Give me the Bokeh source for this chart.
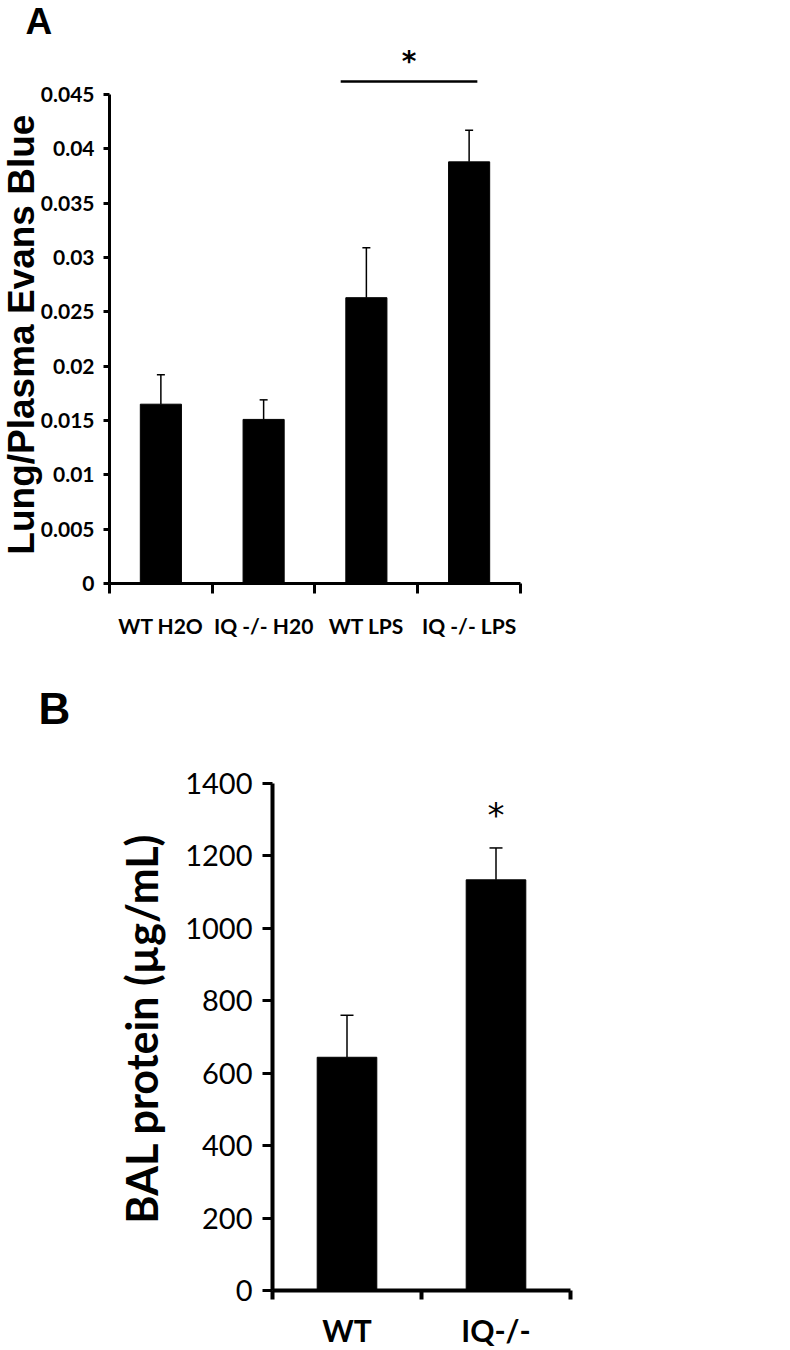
import numpy as np
from bokeh.plotting import figure
from bokeh.models import ColumnDataSource, FixedTicker, Range1d, Whisker, TeeHead
from bokeh.layouts import column
from bokeh.embed import file_html
from bokeh.resources import INLINE
from bokeh.core.properties import value

# ---------------- Panel A data ----------------
cats_a = ["WT H2O", "IQ -/- H20", "WT LPS", "IQ -/- LPS"]
mean_a = [0.0165, 0.0151, 0.0263, 0.0388]
sem_a = [0.0027, 0.0018, 0.0046, 0.0029]
yticks_a = [0, 0.005, 0.01, 0.015, 0.02, 0.025, 0.03, 0.035, 0.04, 0.045]
ylabels_a = ["0", "0.005", "0.01", "0.015", "0.02", "0.025", "0.03", "0.035", "0.04", "0.045"]
ytitle_a = "Lung/Plasma Evans Blue"
sig_pair_a = [2, 3]

# ---------------- Panel B data ----------------
cats_b = ["WT", "IQ-/-"]
mean_b = [644, 1134]
sem_b = [116, 88]
yticks_b = [0, 200, 400, 600, 800, 1000, 1200, 1400]
ylabels_b = ["0", "200", "400", "600", "800", "1000", "1200", "1400"]
ytitle_b = "BAL protein (µg/mL)"
sig_index_b = 1

FONT = "Lato"
STAR_FONT = "DejaVu Sans"
PANEL_FONT = "Liberation Sans"


def style_common(p):
    p.xgrid.visible = False
    p.ygrid.visible = False
    p.outline_line_color = None
    p.background_fill_color = "white"
    p.border_fill_color = "white"
    p.min_border = 0


# ================= Panel A =================
# the frame spans the whole figure; axes are pinned at x=0 / y=0
pa = figure(width=790, height=660,
            x_range=Range1d(-1.0608, 6.6277), y_range=Range1d(-0.007086, 0.053649),
            output_backend="svg", toolbar_location=None)
style_common(pa)

xa = np.arange(len(cats_a)) + 0.5
upper_a = [m + s for m, s in zip(mean_a, sem_a)]
src_a = ColumnDataSource(dict(x=xa, top=mean_a, upper=upper_a))
pa.vbar(x="x", top="top", bottom=0, width=0.4, source=src_a,
        fill_color="black", line_color="black", line_width=1)
pa.add_layout(Whisker(source=src_a, base="x", lower="top", upper="upper", dimension="height",
                      line_color="black", line_width=1.5,
                      upper_head=TeeHead(size=8, line_color="black", line_width=1.5),
                      lower_head=None))

# significance bracket
sig_y = max(upper_a) + 0.0045
x0 = xa[sig_pair_a[0]] - 0.25
x1 = xa[sig_pair_a[1]] + 0.08
pa.line(x=[x0, x1], y=[sig_y, sig_y], line_color="black", line_width=2.5)
pa.text(x=[(x0 + x1) / 2], y=[sig_y + 0.0018], text=["*"], text_align="center",
        text_baseline="middle", text_font=value(STAR_FONT), text_font_size="28px",
        text_font_style="bold", text_color="black")

xax = pa.xaxis[0]
xax.fixed_location = 0
xax.bounds = (0, len(cats_a))
xax.ticker = FixedTicker(ticks=list(xa), minor_ticks=list(range(len(cats_a) + 1)))
xax.major_label_overrides = {float(x): c for x, c in zip(xa, cats_a)}
xax.axis_line_width = 3
xax.major_tick_out = 0
xax.major_tick_in = 0
xax.minor_tick_out = 10
xax.minor_tick_in = 0
xax.minor_tick_line_width = 3
xax.major_label_standoff = 20
xax.major_label_text_font = FONT
xax.major_label_text_font_style = "bold"
xax.major_label_text_font_size = "21px"
xax.major_label_text_color = "black"

yax = pa.yaxis[0]
yax.fixed_location = 0
yax.ticker = FixedTicker(ticks=yticks_a, minor_ticks=[])
yax.bounds = (0, 0.045)
yax.major_label_overrides = dict(zip(yticks_a, ylabels_a))
yax.axis_line_width = 3
yax.major_tick_out = 6
yax.major_tick_in = 0
yax.major_tick_line_width = 3
yax.minor_tick_out = 0
yax.minor_tick_in = 0
yax.major_label_standoff = 9
yax.major_label_text_font = FONT
yax.major_label_text_font_style = "bold"
yax.major_label_text_font_size = "21px"
yax.major_label_text_color = "black"

# y-axis title (placed as text so that it stays inside the canvas)
pa.text(x=[-0.8516], y=[0.0229], text=[ytitle_a], angle=np.pi / 2, text_align="center",
        text_baseline="middle", text_font=value(PANEL_FONT), text_font_style="bold",
        text_font_size="37px", text_color="black")

# panel letter
pa.text(x=[-0.8175], y=[0.05172], text=["A"], text_align="left", text_baseline="middle",
        text_font=value(PANEL_FONT), text_font_style="bold", text_font_size="37px",
        text_color="black")

# ================= Panel B =================
pb = figure(width=790, height=690,
            x_range=Range1d(-1.8255, 3.4765), y_range=Range1d(-165.68, 1739.6),
            output_backend="svg", toolbar_location=None)
style_common(pb)

xb = np.arange(len(cats_b)) + 0.5
upper_b = [m + s for m, s in zip(mean_b, sem_b)]
src_b = ColumnDataSource(dict(x=xb, top=mean_b, upper=upper_b))
pb.vbar(x="x", top="top", bottom=0, width=0.4, source=src_b,
        fill_color="black", line_color="black", line_width=1)
pb.add_layout(Whisker(source=src_b, base="x", lower="top", upper="upper", dimension="height",
                      line_color="black", line_width=1.5,
                      upper_head=TeeHead(size=13, line_color="black", line_width=1.5),
                      lower_head=None))
pb.text(x=[xb[sig_index_b]], y=[upper_b[sig_index_b] + 90], text=["*"], text_align="center",
        text_baseline="middle", text_font=value(STAR_FONT), text_font_size="34px",
        text_color="black")

xbx = pb.xaxis[0]
xbx.fixed_location = 0
xbx.bounds = (0, len(cats_b))
xbx.ticker = FixedTicker(ticks=list(xb), minor_ticks=list(range(len(cats_b) + 1)))
xbx.major_label_overrides = {float(x): c for x, c in zip(xb, cats_b)}
xbx.axis_line_width = 4
xbx.major_tick_out = 0
xbx.major_tick_in = 0
xbx.minor_tick_out = 9
xbx.minor_tick_in = 0
xbx.minor_tick_line_width = 4
xbx.major_label_standoff = 13
xbx.major_label_text_font = FONT
xbx.major_label_text_font_style = "bold"
xbx.major_label_text_font_size = "30px"
xbx.major_label_text_color = "black"

ybx = pb.yaxis[0]
ybx.fixed_location = 0
ybx.ticker = FixedTicker(ticks=yticks_b, minor_ticks=[])
ybx.bounds = (0, 1400)
ybx.major_label_overrides = dict(zip(yticks_b, ylabels_b))
ybx.axis_line_width = 4
ybx.major_tick_out = 10
ybx.major_tick_in = 0
ybx.major_tick_line_width = 3
ybx.minor_tick_out = 0
ybx.minor_tick_in = 0
ybx.major_label_standoff = 10
ybx.major_label_text_font = FONT
ybx.major_label_text_font_size = "29px"
ybx.major_label_text_color = "black"

# y-axis title
pb.text(x=[-0.878], y=[723.5], text=[ytitle_b], angle=np.pi / 2, text_align="center",
        text_baseline="middle", text_font=value(FONT), text_font_style="bold",
        text_font_size="43px", text_color="black")

pb.text(x=[-1.57], y=[1605.7], text=["B"], text_align="left", text_baseline="middle",
        text_font=value(PANEL_FONT), text_font_style="bold", text_font_size="44px",
        text_color="black")

layout = column(pa, pb, spacing=0)
open("out.html", "w").write(file_html(layout, INLINE))
